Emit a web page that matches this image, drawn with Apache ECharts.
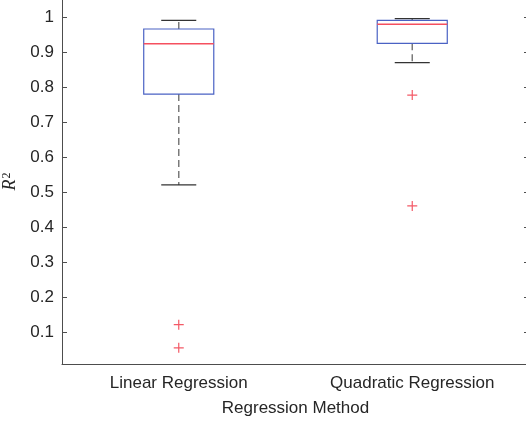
<!DOCTYPE html>
<html>
<head>
<meta charset="utf-8">
<script src="https://cdn.jsdelivr.net/npm/echarts@6/dist/echarts.min.js"></script>
<style>
html,body{margin:0;padding:0;background:#fff;overflow:hidden;}
#main{width:526px;height:424px;}
</style>
</head>
<body>
<div id="main"></div>
<script>
// categories and box statistics
var categories = ['Linear Regression', 'Quadratic Regression'];
var whiskerLow = [0.521, 0.871];
var q1 = [0.781, 0.926];
var median = [0.925, 0.981];
var q3 = [0.967, 0.992];
var whiskerHigh = [0.992, 0.997];
// outliers: [category index, value]
var outliers = [[0, 0.121], [0, 0.055], [1, 0.778], [1, 0.461]];
var yTicks = [0.1, 0.2, 0.3, 0.4, 0.5, 0.6, 0.7, 0.8, 0.9, 1];
var yMin = 0.0086, yMax = 1.0529;

var boxData = [];
for (var i = 0; i < categories.length; i++) {
	boxData.push([i, whiskerLow[i], q1[i], median[i], q3[i], whiskerHigh[i]]);
}

var axisColor = '#4d4d4d';
var textColor = '#262626';
var font = 'Liberation Sans, Arial, sans-serif';

function renderBox(params, api) {
	var idx = api.value(0);
	var band = api.size([1, 0])[0];
	var half = band * 0.15;
	var capHalf = band * 0.075;
	var lo = api.coord([idx, api.value(1)]);
	var b1 = api.coord([idx, api.value(2)]);
	var md = api.coord([idx, api.value(3)]);
	var b3 = api.coord([idx, api.value(4)]);
	var hi = api.coord([idx, api.value(5)]);
	var x = lo[0];
	var dash = {stroke: '#7a7a7a', lineWidth: 1.5, lineDash: [7, 4]};
	var cap = {stroke: '#333333', lineWidth: 1.2};
	return {
		type: 'group',
		children: [
			{type: 'line', shape: {x1: x, y1: b3[1], x2: x, y2: hi[1]}, style: dash},
			{type: 'line', shape: {x1: x, y1: b1[1], x2: x, y2: lo[1]}, style: dash},
			{type: 'line', shape: {x1: x - capHalf, y1: hi[1], x2: x + capHalf, y2: hi[1]}, style: cap},
			{type: 'line', shape: {x1: x - capHalf, y1: lo[1], x2: x + capHalf, y2: lo[1]}, style: cap},
			{type: 'rect', shape: {x: x - half, y: b3[1], width: half * 2, height: b1[1] - b3[1]},
				style: {fill: '#fff', stroke: '#4a62c4', lineWidth: 1.2}},
			{type: 'line', shape: {x1: x - half, y1: md[1], x2: x + half, y2: md[1]},
				style: {stroke: '#f5505f', lineWidth: 1.5}}
		]
	};
}

var chart = echarts.init(document.getElementById('main'));
var option = {
	animation: false,
	backgroundColor: '#fff',
	grid: {left: 62, right: -3, top: -1, bottom: 60, outerBoundsMode: 'none'},
	xAxis: [
		{
			type: 'category',
			data: categories,
			position: 'bottom',
			name: 'Regression Method',
			nameLocation: 'middle',
			nameGap: 36,
			nameTextStyle: {fontFamily: font, fontSize: 17, color: textColor},
			axisLine: {lineStyle: {color: axisColor, width: 1}},
			axisTick: {inside: true, length: 5, alignWithLabel: true, lineStyle: {color: axisColor}},
			axisLabel: {fontFamily: font, fontSize: 17, color: textColor, margin: 11},
			splitLine: {show: false}
		},
		{
			type: 'category',
			data: categories,
			position: 'top',
			axisLine: {lineStyle: {color: axisColor, width: 1}},
			axisTick: {inside: true, length: 5, alignWithLabel: true, lineStyle: {color: axisColor}},
			axisLabel: {show: false},
			splitLine: {show: false}
		}
	],
	yAxis: [
		{
			type: 'value',
			min: yMin,
			max: yMax,
			position: 'left',
			name: '{r|R}{s|2}',
			nameLocation: 'middle',
			nameGap: 40,
			nameTextStyle: {
				rich: {
					r: {fontFamily: 'Liberation Serif, serif', fontStyle: 'italic', fontSize: 18, color: textColor},
					s: {fontFamily: 'Liberation Serif, serif', fontSize: 12, color: textColor, verticalAlign: 'top', padding: [0, 0, 8, 1]}
				}
			},
			axisLine: {show: true, lineStyle: {color: axisColor, width: 1}},
			axisTick: {show: true, inside: true, length: 5, customValues: yTicks, lineStyle: {color: axisColor}},
			axisLabel: {customValues: yTicks, fontFamily: font, fontSize: 17, color: textColor, margin: 8},
			splitLine: {show: false}
		},
		{
			type: 'value',
			min: yMin,
			max: yMax,
			position: 'right',
			axisLine: {show: false},
			axisTick: {show: true, inside: true, length: 5, customValues: yTicks, lineStyle: {color: axisColor}},
			axisLabel: {show: false},
			splitLine: {show: false}
		}
	],
	series: [
		{
			type: 'custom',
			renderItem: renderBox,
			encode: {x: 0, y: [1, 2, 3, 4, 5]},
			data: boxData,
			z: 2
		},
		{
			type: 'scatter',
			data: outliers,
			symbol: 'path://M0,5L10,5M5,0L5,10',
			symbolSize: 10,
			itemStyle: {color: 'none', borderColor: '#f03040', borderWidth: 1.2},
			z: 3
		}
	]
};
chart.setOption(option);
</script>
</body>
</html>
